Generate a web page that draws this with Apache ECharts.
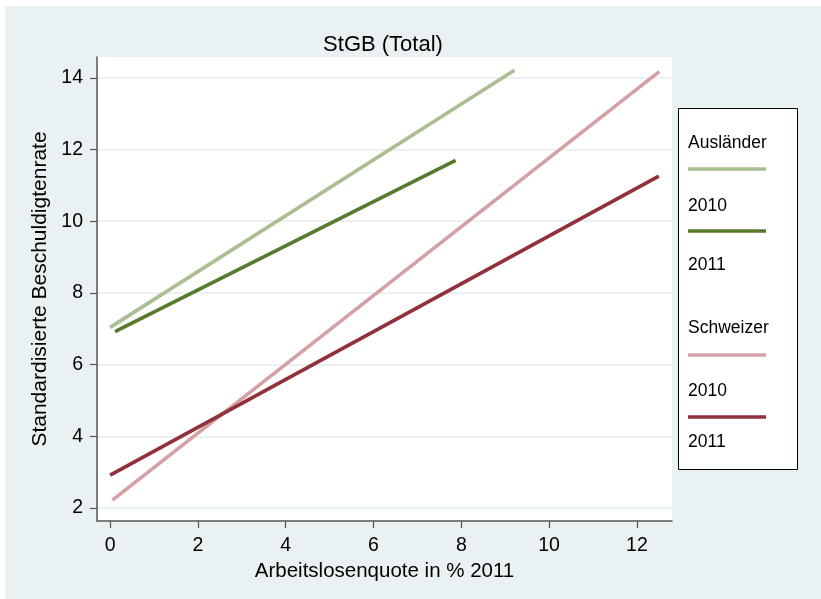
<!DOCTYPE html>
<html>
<head>
<meta charset="utf-8">
<script src="https://cdn.jsdelivr.net/npm/echarts@6/dist/echarts.min.js"></script>
<style>
  html, body { margin: 0; padding: 0; background: #ffffff; }
  #chart { width: 821px; height: 599px; }
</style>
</head>
<body>
<div id="chart"></div>
<script>
// Fitted lines: each group has a start and end point (x = Arbeitslosenquote, y = rate)
const auslaender2010 = [[0.0, 7.04], [9.21, 14.21]];
const auslaender2011 = [[0.11, 6.92], [7.87, 11.70]];
const schweizer2010 = [[0.05, 2.22], [12.51, 14.17]];
const schweizer2011 = [[0.0, 2.92], [12.5, 11.26]];

const xTicks = [0, 2, 4, 6, 8, 10, 12];
const yTicks = [2, 4, 6, 8, 10, 12, 14];

const legendGroups = ['Ausländer', 'Schweizer'];
const legendYears = ['2010', '2011'];

const colors = {
  ausl10: '#a9bf93',
  ausl11: '#587a2b',
  schw10: '#d4a0a4',
  schw11: '#90313b'
};

const FONT = "'Liberation Sans', Arial, Helvetica, sans-serif";
const chart = echarts.init(document.getElementById('chart'), null, { renderer: 'canvas' });

function lineSeries(name, data, color) {
  return {
    name: name,
    type: 'line',
    data: data,
    showSymbol: false,
    symbol: 'none',
    lineStyle: { color: color, width: 3.6, cap: 'butt' },
    silent: true,
    animation: false
  };
}

// Legend laid out as label rows with line samples between them
const legendX = 678, legendY = 108, legendW = 119, legendH = 361;
const legendRows = [
  { type: 'text', text: legendGroups[0], y: 143 },
  { type: 'line', color: colors.ausl10, y: 169 },
  { type: 'text', text: legendYears[0], y: 206 },
  { type: 'line', color: colors.ausl11, y: 231 },
  { type: 'text', text: legendYears[1], y: 265 },
  { type: 'text', text: legendGroups[1], y: 328 },
  { type: 'line', color: colors.schw10, y: 355 },
  { type: 'text', text: legendYears[0], y: 391 },
  { type: 'line', color: colors.schw11, y: 417 },
  { type: 'text', text: legendYears[1], y: 442 }
];
const legendGraphics = [{
  type: 'rect',
  shape: { x: legendX + 0.5, y: legendY + 0.5, width: legendW, height: legendH },
  style: { fill: '#ffffff', stroke: '#000000', lineWidth: 1 }
}];
legendRows.forEach(r => {
  if (r.type === 'text') {
    legendGraphics.push({
      type: 'text',
      x: 688, y: r.y,
      style: { text: r.text, font: '17.5px ' + FONT, fill: '#000000', textVerticalAlign: 'middle', verticalAlign: 'middle' }
    });
  } else {
    legendGraphics.push({
      type: 'line',
      shape: { x1: 688, y1: r.y, x2: 766, y2: r.y },
      style: { stroke: r.color, lineWidth: 3.6 }
    });
  }
});

const option = {
  animation: false,
  backgroundColor: '#ffffff',
  title: {
    text: 'StGB (Total)',
    left: 378, top: 29, textAlign: 'center',
    textStyle: { fontFamily: FONT, fontSize: 22, fontWeight: 'normal', color: '#000000' }
  },
  grid: {
    left: 97, right: 149, top: 57, bottom: 78,
    show: true, backgroundColor: '#ffffff', borderWidth: 0
  },
  xAxis: {
    type: 'value',
    min: -0.3, max: 12.8,
    name: 'Arbeitslosenquote in % 2011',
    nameLocation: 'middle', nameGap: 37,
    nameTextStyle: { fontFamily: FONT, fontSize: 20.5, color: '#000000' },
    axisLine: { show: true, onZero: false, lineStyle: { color: '#555555', width: 1.5 } },
    axisTick: { show: true, length: 7, customValues: xTicks, lineStyle: { color: '#555555', width: 1.2 } },
    axisLabel: { customValues: xTicks, fontFamily: FONT, fontSize: 19.5, color: '#000000', margin: 15 },
    splitLine: { show: false }
  },
  yAxis: {
    type: 'value',
    min: 1.64, max: 14.58,
    name: 'Standardisierte Beschuldigtenrate',
    nameLocation: 'middle', nameGap: 44, nameRotate: 90,
    nameTextStyle: { fontFamily: FONT, fontSize: 21, color: '#000000' },
    axisLine: { show: true, onZero: false, lineStyle: { color: '#555555', width: 1.5 } },
    axisTick: { show: true, length: 7, customValues: yTicks, lineStyle: { color: '#555555', width: 1.2 } },
    axisLabel: { customValues: yTicks, fontFamily: FONT, fontSize: 19.5, color: '#000000', margin: 14 },
    splitLine: { show: true, lineStyle: { color: '#e6eef1', width: 1.5 } }
  },
  series: [
    lineSeries('Ausländer 2010', auslaender2010, colors.ausl10),
    lineSeries('Ausländer 2011', auslaender2011, colors.ausl11),
    lineSeries('Schweizer 2010', schweizer2010, colors.schw10),
    lineSeries('Schweizer 2011', schweizer2011, colors.schw11)
  ],
  graphic: [
    {
      type: 'rect', z: -100, silent: true,
      shape: { x: 5, y: 6, width: 816, height: 593 },
      style: { fill: '#e9f1f3' }
    }
  ].concat(legendGraphics)
};

chart.setOption(option);
</script>
</body>
</html>
